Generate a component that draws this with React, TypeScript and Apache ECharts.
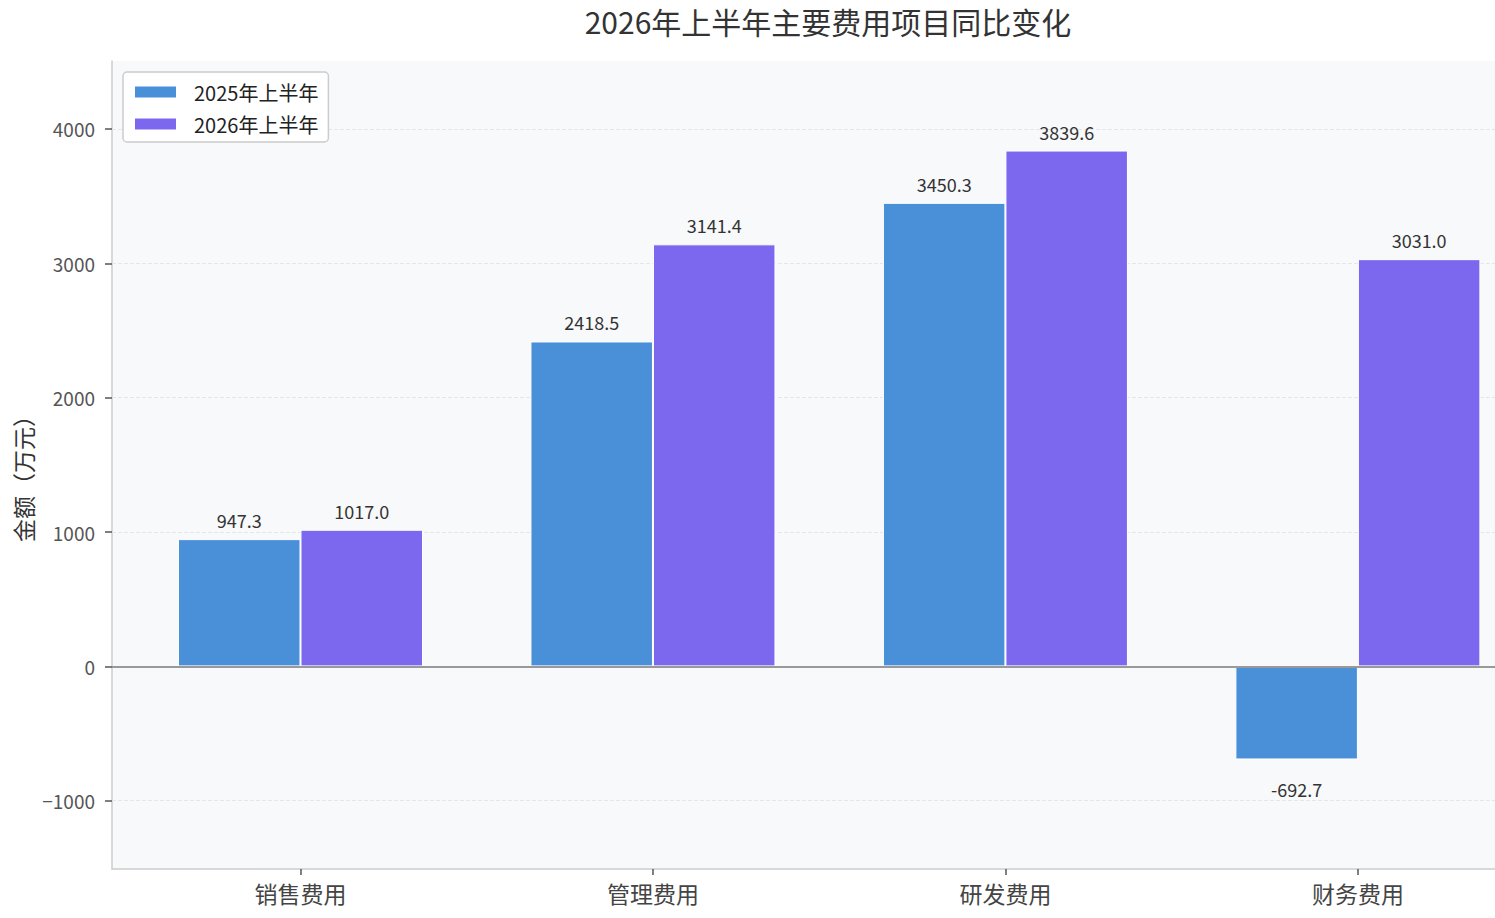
import React, { useEffect, useRef } from "react";
import * as echarts from "echarts";

const categories = ["销售费用", "管理费用", "研发费用", "财务费用"];
const seriesNames = ["2025年上半年", "2026年上半年"];
const values2025 = [947.3, 2418.5, 3450.3, -692.7];
const values2026 = [1017.0, 3141.4, 3839.6, 3031.0];
const yTicks = [-1000, 0, 1000, 2000, 3000, 4000];
const titleText = "2026年上半年主要费用项目同比变化";
const yAxisName = "金额（万元）";

const FONT = "Noto Sans CJK SC";

function toData(vals: number[]) {
  return vals.map((v, i) => {
    const item: any = { value: [i, v] };
    if (v < 0) item.label = { position: "bottom", distance: 21 };
    return item;
  });
}

export default function App() {
  const ref = useRef<HTMLDivElement>(null);
  useEffect(() => {
    if (!ref.current) return;
    const chart = echarts.init(ref.current, undefined, { renderer: "svg" });
    const barLabel = {
      show: true,
      position: "top",
      distance: 10,
      fontSize: 18,
      color: "#333",
      fontFamily: FONT,
      formatter: (p: any) => Number(p.value[1]).toFixed(1),
    };
    chart.setOption({
      animation: false,
      backgroundColor: "#ffffff",
      textStyle: { fontFamily: FONT },
      graphic: [
        {
          type: "text",
          x: 828,
          y: 21,
          style: {
            text: titleText,
            fontSize: 30,
            fontFamily: FONT,
            fill: "#333",
            textAlign: "center",
            textVerticalAlign: "middle",
          },
        },
        {
          type: "text",
          x: 23,
          y: 473,
          rotation: Math.PI / 2,
          style: {
            text: yAxisName,
            fontSize: 23,
            fontFamily: FONT,
            fill: "#333",
            textAlign: "center",
            textVerticalAlign: "middle",
          },
        },
      ],
      legend: {
        data: seriesNames,
        orient: "vertical",
        left: 123,
        top: 72,
        itemWidth: 43,
        itemHeight: 13,
        itemGap: 12,
        icon: "rect",
        padding: [10, 10, 8, 10],
        borderColor: "#cccccc",
        borderWidth: 1.5,
        borderRadius: 4,
        backgroundColor: "#ffffff",
        textStyle: { fontSize: 20, color: "#222", fontFamily: FONT, padding: [0, 0, 0, 12] },
      },
      grid: {
        left: 112,
        right: 0,
        top: 61,
        bottom: 49,
        containLabel: false,
        outerBoundsMode: "none",
        show: true,
        backgroundColor: "#f8f9fb",
        borderWidth: 0,
      },
      xAxis: {
        type: "value",
        min: -0.5348,
        max: 3.389,
        axisLine: { show: true, onZero: false, lineStyle: { color: "#cccccc", width: 1.5 } },
        axisTick: { show: true, length: 6, lineStyle: { color: "#555", width: 1.5 }, customValues: [0, 1, 2, 3] },
        axisLabel: {
          customValues: [0, 1, 2, 3],
          formatter: (v: number) => categories[Math.round(v)] ?? "",
          fontSize: 23,
          color: "#444",
          margin: 12,
          fontFamily: FONT,
        },
        splitLine: { show: false },
      },
      yAxis: {
        type: "value",
        min: -1508,
        max: 4506,
        axisLine: { show: true, onZero: false, lineStyle: { color: "#cccccc", width: 1.5 } },
        axisTick: { show: true, length: 7, lineStyle: { color: "#555", width: 1.5 }, customValues: yTicks },
        axisLabel: {
          customValues: yTicks,
          fontSize: 19,
          color: "#555",
          margin: 17,
          fontFamily: FONT,
          formatter: (v: number) => (v < 0 ? "\u2212" + String(Math.abs(v)) : String(v)),
        },
        splitLine: { show: false },
      },
      series: [
        {
          type: "line",
          data: [],
          z: 1,
          silent: true,
          markLine: {
            silent: true,
            z: 1,
            symbol: ["none", "none"],
            label: { show: false },
            lineStyle: { type: "dashed", color: "#e4e6ea", width: 1 },
            data: yTicks.filter((t) => t !== 0).map((t) => ({ yAxis: t })),
          },
        },
        {
          name: seriesNames[0],
          type: "bar",
          data: toData(values2025),
          barWidth: 122.5,
          barGap: "0%",
          z: 2,
          itemStyle: { color: "#4a90d9", borderColor: "#ffffff", borderWidth: 1 },
          label: barLabel,
        },
        {
          name: seriesNames[1],
          type: "bar",
          data: toData(values2026),
          barWidth: 122.5,
          barGap: "0%",
          z: 2,
          itemStyle: { color: "#7b68ee", borderColor: "#ffffff", borderWidth: 1 },
          label: barLabel,
        },
        {
          type: "line",
          data: [],
          z: 5,
          silent: true,
          markLine: {
            silent: true,
            z: 6,
            symbol: ["none", "none"],
            label: { show: false },
            lineStyle: { type: "solid", color: "#999999", width: 1.8 },
            data: [{ yAxis: 0 }],
          },
        },
      ],
    });
    return () => chart.dispose();
  }, []);
  return (
    <div
      ref={ref}
      style={{ position: "fixed", left: 0, top: 0, width: 1495, height: 918 }}
    />
  );
}
